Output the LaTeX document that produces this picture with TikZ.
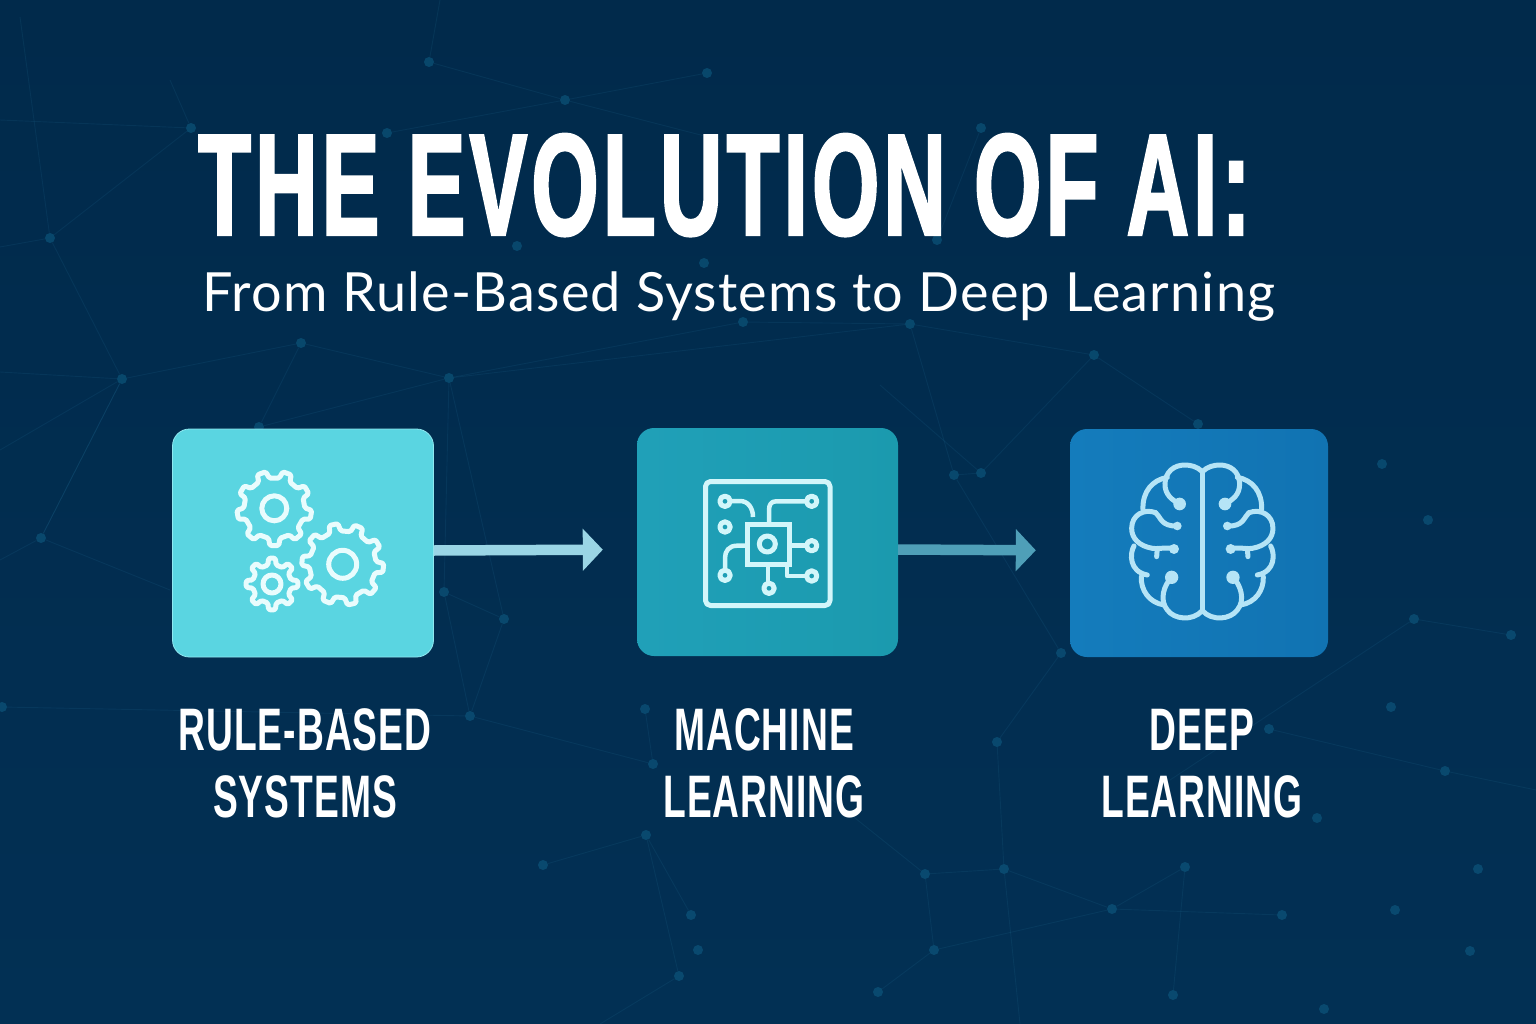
\documentclass[tikz,border=0pt]{standalone}
\usepackage{fontspec}
\usetikzlibrary{arrows, arrows.meta}
\usetikzlibrary{calc}
\newfontfamily\titlefont[FakeStretch=0.595, FakeBold=1.6, LetterSpace=3.0]{Liberation Sans}
\newfontfamily\labelfont[FakeStretch=0.62, LetterSpace=1.7]{Liberation Sans}
\newfontfamily\subfont[LetterSpace=2.2]{Lato}

\definecolor{bgtop}{HTML}{012A4B}
\definecolor{bgbottom}{HTML}{023054}
\definecolor{netline}{HTML}{2A7FA6}
\definecolor{netdot}{HTML}{0F5F86}
\definecolor{ruleblue}{HTML}{5AD5E1}
\definecolor{ruleedge}{HTML}{8FE8F0}
\definecolor{mlleft}{HTML}{20A0B8}
\definecolor{mlright}{HTML}{1B9AAE}
\definecolor{dlleft}{HTML}{147CBC}
\definecolor{dlright}{HTML}{1173B2}
\definecolor{arrowa}{HTML}{9AD5E5}
\definecolor{arrowb}{HTML}{4F9FB8}
\definecolor{gearline}{HTML}{E9FCFD}
\definecolor{chipline}{HTML}{D2F6FA}
\definecolor{brainline}{HTML}{B5E4F6}

\tikzset{
  netnode/.style={circle, fill=netdot, opacity=0.55, inner sep=0pt, minimum size=10pt},
  netedge/.style={draw=netline, opacity=0.13, line width=0.9pt},
  stagebox/.style={rectangle, rounded corners=17pt, inner sep=0pt, minimum width=261pt, minimum height=228pt},
  stagelabel/.style={text=white, align=center, inner sep=0pt, anchor=base, font=\labelfont\bfseries\fontsize{60}{67}\selectfont},
  flowarrow/.style={line width=10.5pt, shorten >=34pt, -{Triangle[length=20pt, width=41pt]}},
  iconline/.style={line width=5pt, line join=round, line cap=round, fill=none},
}

\newcommand{\gearicon}[6]{%
  \begin{scope}[shift={(#1,#2)}]
    \draw[iconline, draw=gearline, rounded corners=1.5pt] ({#6-0.27*360/#5}:#4)
      \foreach \t in {1,...,#5}{
        -- ({#6+(\t-1-0.17)*360/#5}:#3) -- ({#6+(\t-1+0.17)*360/#5}:#3)
        -- ({#6+(\t-1+0.27)*360/#5}:#4) -- ({#6+(\t-1+0.73)*360/#5}:#4)
      } -- cycle;
  \end{scope}
}

\newcommand{\brainhalf}{%
  \draw[iconline, draw=brainline] (0,155) .. controls (-15,140) and (-35,135) .. (-52,135)
    .. controls (-85,135) and (-110,155) .. (-112,190) .. controls (-113,225) and (-90,240) .. (-68,252);
  \draw[iconline, draw=brainline] (-105,172) .. controls (-150,180) and (-180,215) .. (-178,268);
  \draw[iconline, draw=brainline] (-140,278) .. controls (-175,265) and (-212,285) .. (-212,325)
    .. controls (-212,355) and (-190,378) .. (-150,385) .. controls (-125,388) and (-110,380) .. (-85,387);
  \draw[iconline, draw=brainline] (-140,278) .. controls (-125,290) and (-125,320) .. (-75,318);
  \draw[iconline, draw=brainline] (-135,385) -- (-137,410);
  \draw[iconline, draw=brainline] (-205,378) .. controls (-218,400) and (-220,455) .. (-165,465);
  \draw[iconline, draw=brainline] (-183,470) .. controls (-185,510) and (-160,548) .. (-115,555);
  \draw[iconline, draw=brainline] (-92,472) .. controls (-115,495) and (-130,540) .. (-105,570)
    .. controls (-85,598) and (-30,605) .. (0,572);
  \fill[brainline] (-68,252) circle [radius=19];
  \fill[brainline] (-75,318) circle [radius=13];
  \fill[brainline] (-85,387) circle [radius=15];
  \fill[brainline] (-92,472) circle [radius=20];
}

\begin{document}
\begin{tikzpicture}[x=1pt, y=-1pt]
    \useasboundingbox (0,0) rectangle (1536,1024);
    \shade[top color=bgtop, bottom color=bgbottom] (0,0) rectangle (1536,1024);

    \foreach \n/\x/\y in {a/429/62, b/707/73, c/565/100, d/191/128, e/387/133, f/50/238, g/517/246, h/704/263,
      i/743/322, j/301/343, k/122/379, l/449/378, m/259/427, o/981/128, p/937/240, q/910/324, r/1094/355,
      s/1198/424, t/954/475, u/981/473, v/1382/464, w/41/538, aa/444/592, ab/504/619, ac/2/707, ad/470/716,
      ae/645/709, af/653/764, ag/646/835, ah/543/865, ai/691/915, aj/698/950, ak/679/976, al/1428/520,
      am/1061/653, an/1414/619, ao/1511/635, ap/997/742, aq/1391/707, ar/1269/729, as/1445/771, at/1317/818,
      au/925/874, av/1004/869, aw/1185/867, ax/1478/869, ay/1112/909, az/1282/915, ba/1395/910, bb/934/950,
      bc/1470/951, bd/878/992, be/1173/995, bf/1324/1009}
      \node[netnode] (\n) at (\x,\y) {};

    \foreach \n/\x/\y in {za/0/120, zb/0/247, zc/20/17, zd/0/372, ze/0/450, zf/170/80, zg/440/0, zh/720/140,
      zi/0/560, zj/170/590, zk/880/385, zl/1170/780, zm/1536/790, zn/600/1024, zo/820/790, zp/1020/1024}
      \coordinate (\n) at (\x,\y);

    \foreach \s/\e in {a/c, c/b, c/e, c/zh, a/zg, d/f, d/zf, d/za, f/zb, f/zc, j/k, j/l, j/m, k/zd, k/ze, k/f, k/w,
      l/i, l/m, l/aa, l/ab, w/zi, w/zj, w/k, aa/ab, aa/ad, ab/ad, ad/af, ad/ac, ah/ag, ag/ak, ag/ai, ae/af, ak/zn,
      i/q, q/r, q/t, r/u, r/s, t/u, u/zk, p/o, am/t, am/ap, ap/av, av/au, av/ay, au/bb, au/zo, bb/ay, bb/bd,
      ay/az, ay/aw, aw/be, ar/as, as/zm, an/ao, an/zl, av/zp, q/l}
      \draw[netedge] (\s) -- (\e);

    \node[anchor=base west, inner sep=0pt, text=white, font=\titlefont\bfseries\fontsize{145}{145}\selectfont] (titletext) at (198,235) {THE EVOLUTION OF AI:};
    \node[anchor=base west, inner sep=0pt, text=white, font=\subfont\fontsize{54}{54}\selectfont] (subtitletext) at (202,311) {From Rule-Based Systems to Deep Learning};

    \node[stagebox, fill=ruleblue, draw=ruleedge, line width=0.8pt] (rulebox) at (303,543) {};
    \node[stagebox, left color=mlleft, right color=mlright] (mlbox) at (767.5,542) {};
    \node[stagebox, left color=dlleft, right color=dlright, minimum width=258pt] (dlbox) at (1199,543) {};

    \draw[flowarrow, draw=arrowa, fill=arrowa] ([yshift=-7.5pt]rulebox.east) -- ([yshift=-7.5pt]mlbox.west);
    \draw[flowarrow, draw=arrowb, fill=arrowb] ([yshift=-7.5pt]mlbox.east) -- ([yshift=-7.5pt]dlbox.west);

    \gearicon{274.3}{508.3}{37.5}{30.5}{9}{10}
    \gearicon{342.7}{564.3}{41}{33.5}{10}{5}
    \gearicon{272}{584}{26}{19.5}{8}{0}
    \draw[iconline, draw=gearline] (274.3,508.3) circle [radius=12.5];
    \draw[iconline, draw=gearline] (342.7,564.3) circle [radius=14];
    \draw[iconline, draw=gearline] (272,584) circle [radius=9];

    \draw[iconline, draw=chipline, rounded corners=5pt] (705.5,481.5) rectangle (830,605.5);
    \draw[iconline, draw=chipline, line cap=butt, line join=miter] (747.5,524.5) rectangle (789,564.5);
    \draw[iconline, draw=chipline] (767.3,544) circle [radius=8];
    \foreach \x/\y in {725/501.3, 725/527, 811.7/501.3, 811.7/545.7, 811.7/576, 725/575.3, 769/588.3}
      \draw[iconline, draw=chipline] (\x,\y) circle [radius=5.2];
    \draw[iconline, draw=chipline, line width=4.5pt, line cap=butt] (730.5,501) -- (740,501) .. controls (748,501) and (753,508) .. (753,517);
    \draw[iconline, draw=chipline, line width=4.5pt, line cap=butt] (806,501.3) -- (776,501.3) .. controls (771,501.3) and (769,505) .. (769,510) -- (769,522);
    \draw[iconline, draw=chipline, line width=4.5pt, line cap=butt] (791,545.7) -- (806,545.7);
    \draw[iconline, draw=chipline, line width=4.5pt, line cap=butt] (787,567) -- (787,576) -- (806,576);
    \draw[iconline, draw=chipline, line width=4.5pt, line cap=butt] (768,567) -- (768,582);
    \draw[iconline, draw=chipline, line width=4.5pt, line cap=butt] (745,545.7) -- (737,545.7) .. controls (729,545.7) and (725,551) .. (725,558) -- (725,570);

    \begin{scope}[shift={(1202.3,420)}, x=0.3333pt, y=-0.3333pt]
      \brainhalf
      \begin{scope}[xscale=-1]
        \brainhalf
      \end{scope}
    \end{scope}
    \draw[iconline, draw=brainline, line cap=butt] (1202.3,470) -- (1202.3,611);

    \node[stagelabel] (rulelabel) at (305,817) {RULE-BASED\\SYSTEMS};
    \node[stagelabel] (mllabel) at (764,817) {MACHINE\\LEARNING};
    \node[stagelabel] (dllabel) at (1202,817) {DEEP\\LEARNING};
\end{tikzpicture}
\end{document}
